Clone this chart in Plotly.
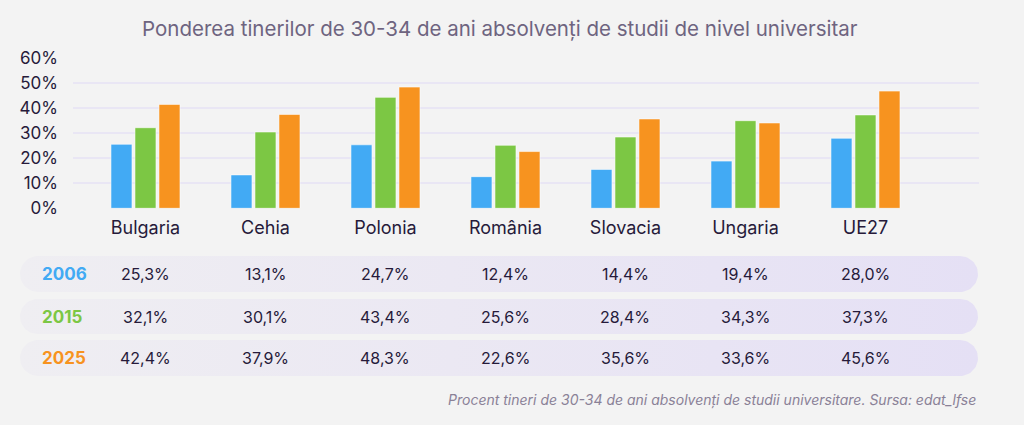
import plotly.graph_objects as go
import numpy as np

W, H = 1024, 425

categories = ["Bulgaria", "Cehia", "Polonia", "România", "Slovacia", "Ungaria", "UE27"]
years = ["2006", "2015", "2025"]

# bar heights
bars_2006 = [25.5, 13.3, 25.3, 12.6, 15.5, 18.8, 27.9]
bars_2015 = [32.1, 30.4, 44.2, 25.1, 28.4, 34.9, 37.2]
bars_2025 = [41.4, 37.4, 48.3, 22.6, 35.6, 34.0, 46.7]

# table texts
table_2006 = ["25,3%", "13,1%", "24,7%", "12,4%", "14,4%", "19,4%", "28,0%"]
table_2015 = ["32,1%", "30,1%", "43,4%", "25,6%", "28,4%", "34,3%", "37,3%"]
table_2025 = ["42,4%", "37,9%", "48,3%", "22,6%", "35,6%", "33,6%", "45,6%"]

y_ticks = [0, 10, 20, 30, 40, 50, 60]
y_tick_labels = ["0%", "10%", "20%", "30%", "40%", "50%", "60%"]

colors = ["#42aaf4", "#7cc744", "#f7931f"]
FONT = "Inter"
DARK = "#261a3a"


def px(x):
    return x / W


def py(y):
    return 1 - y / H


fig = go.Figure()

for name, vals, col in zip(years, [bars_2006, bars_2015, bars_2025], colors):
    fig.add_trace(go.Bar(
        x=categories, y=vals, name=name,
        marker=dict(color=col, line=dict(color="rgba(255,255,255,0.55)", width=1)),
        hoverinfo="skip", xaxis="x", yaxis="y",
    ))

# table row pills on a full-page pixel axis
rows_y = [(256, 292), (299, 334), (340, 376)]
x_left, x_right = 20, 978
for (y0, y1) in rows_y:
    r = (y1 - y0) / 2
    cy = (y0 + y1) / 2
    t1 = np.linspace(np.pi / 2, -np.pi / 2, 30)
    t2 = np.linspace(-np.pi / 2, -3 * np.pi / 2, 30)
    xs = list(x_right - r + r * np.cos(t1)) + list(x_left + r + r * np.cos(t2))
    ys = list(cy - r * np.sin(t1)) + list(cy - r * np.sin(t2))
    fig.add_trace(go.Scatter(
        x=xs, y=ys, mode="lines", fill="toself", line=dict(width=0),
        fillgradient=dict(type="horizontal",
                          colorscale=[[0, "#efeef2"], [0.45, "#ebe8f3"], [1, "#e5e0f5"]]),
        xaxis="x2", yaxis="y2", hoverinfo="skip", showlegend=False,
    ))

annotations = []
for (y0, y1), yr, col, texts in zip(rows_y, years, colors, [table_2006, table_2015, table_2025]):
    cy = (y0 + y1) / 2
    annotations.append(dict(
        x=px(40), y=py(cy), xref="paper", yref="paper", text="<b>%s</b>" % yr,
        showarrow=False, xanchor="left", yanchor="middle",
        font=dict(family=FONT, size=17, color=col)))
    for cat, t in zip(categories, texts):
        annotations.append(dict(
            x=cat, y=py(cy), xref="x", yref="paper", text=t,
            showarrow=False, xanchor="center", yanchor="middle",
            font=dict(family=FONT, size=16, color=DARK)))

annotations.append(dict(
    x=px(500), y=py(28), xref="paper", yref="paper",
    text="Ponderea tinerilor de 30-34 de ani absolvenți de studii de nivel universitar",
    showarrow=False, xanchor="center", yanchor="middle",
    font=dict(family=FONT, size=20.5, color="#6e6480")))
annotations.append(dict(
    x=px(978), y=py(400), xref="paper", yref="paper",
    text="<i>Procent tineri de 30-34 de ani absolvenți de studii universitare. Sursa: edat_lfse</i>",
    showarrow=False, xanchor="right", yanchor="middle",
    font=dict(family=FONT, size=14, color="#8a8197")))

fig.update_layout(
    width=W, height=H,
    margin=dict(l=0, r=0, t=0, b=0, pad=0, autoexpand=False),
    paper_bgcolor="#f3f3f3", plot_bgcolor="rgba(0,0,0,0)",
    showlegend=False,
    barmode="group", bargap=0.4, bargroupgap=0.125,
    xaxis=dict(domain=[px(73), px(979)], range=[-0.604, 6.946],
               showgrid=False, zeroline=False, showline=False, ticks="",
               tickfont=dict(family=FONT, size=18, color=DARK),
               ticklabelstandoff=7, fixedrange=True, automargin=False),
    yaxis=dict(domain=[py(208.3), py(57.7)], range=[0, 60],
               tickmode="array", tickvals=y_ticks, ticktext=y_tick_labels,
               showgrid=True, gridcolor="#e9e6f4", gridwidth=2,
               zeroline=False, showline=False, ticks="",
               tickfont=dict(family=FONT, size=17, color=DARK),
               ticklabelstandoff=14, fixedrange=True, automargin=False),
    xaxis2=dict(domain=[0, 1], range=[0, W], visible=False, anchor="y2",
                fixedrange=True, automargin=False),
    yaxis2=dict(domain=[0, 1], range=[H, 0], visible=False, anchor="x2",
                fixedrange=True, automargin=False),
    annotations=annotations,
)

fig.write_html("out.html")
